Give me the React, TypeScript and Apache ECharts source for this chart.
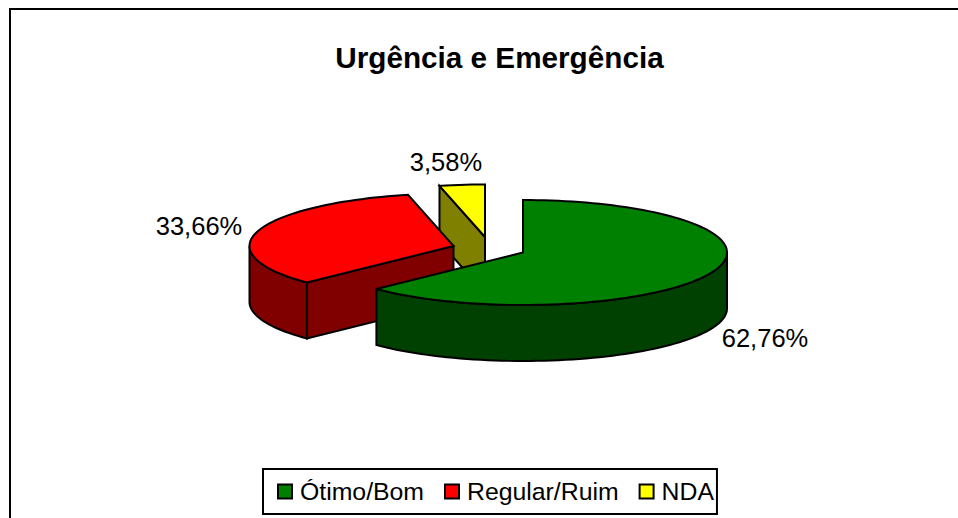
import React, { useEffect, useRef } from "react";
import * as echarts from "echarts";

const titleText = "Urgência e Emergência";
const categories = ["Ótimo/Bom", "Regular/Ruim", "NDA"];
const values = [62.76, 33.66, 3.58];
const topColors = ["#008000", "#FF0000", "#FFFF00"];
const wallColors = ["#004000", "#800000", "#808000"];

// layout of the tilted pie
const RX = 204;
const RY = 52.5;
const DEPTH = 56;
const centers = [
  [523, 252.5],
  [453.5, 246],
  [485, 237],
];
const labelAnchors = [
  [765, 338],
  [199, 226],
  [446, 162],
];
const FONT = "'Liberation Sans', Arial, sans-serif";

const total = values.reduce((a, b) => a + b, 0);

function rim(c: number[], deg: number, dy = 0): number[] {
  const a = (deg * Math.PI) / 180;
  return [c[0] + RX * Math.sin(a), c[1] - RY * Math.cos(a) + dy];
}

function arcPoints(c: number[], from: number, to: number, dy = 0): number[][] {
  const n = Math.max(2, Math.ceil(Math.abs(to - from) / 2));
  const pts: number[][] = [];
  for (let i = 0; i <= n; i++) pts.push(rim(c, from + ((to - from) * i) / n, dy));
  return pts;
}

function face(points: number[][], fill: string) {
  return {
    type: "polygon",
    shape: { points },
    style: { fill, stroke: "#000", lineWidth: 2, lineJoin: "miter" },
  };
}

function makeRenderItem(idx: number) {
  return () => {
    const start = (values.slice(0, idx).reduce((a, b) => a + b, 0) / total) * 360;
    const end = start + (values[idx] / total) * 360;
    const c = centers[idx];
    const children: any[] = [];

    // visible wall of the outer rim (front half: 90..270 degrees)
    const wFrom = Math.max(start, 90);
    const wTo = Math.min(end, 270);
    if (wTo > wFrom) {
      children.push(
        face(
          [...arcPoints(c, wFrom, wTo), ...arcPoints(c, wTo, wFrom, DEPTH)],
          wallColors[idx]
        )
      );
    }
    // visible cut face for the slices whose start edge faces the viewer
    if (idx > 0) {
      const p = rim(c, start);
      children.push(
        face(
          [c, p, [p[0], p[1] + DEPTH], [c[0], c[1] + DEPTH]],
          wallColors[idx]
        )
      );
    }
    // top
    children.push(face([c, ...arcPoints(c, start, end)], topColors[idx]));
    // percentage label
    children.push({
      type: "text",
      style: {
        x: labelAnchors[idx][0],
        y: labelAnchors[idx][1],
        text: values[idx].toFixed(2).replace(".", ",") + "%",
        fill: "#000",
        font: `25.5px ${FONT}`,
        align: "center",
        verticalAlign: "middle",
      },
    });
    return { type: "group", children };
  };
}

export default function App() {
  const ref = useRef<HTMLDivElement>(null);
  useEffect(() => {
    document.body.style.margin = "0";
    document.body.style.background = "#fff";
    const chart = echarts.init(ref.current!, undefined, { renderer: "svg" });
    chart.setOption({
      animation: false,
      backgroundColor: "#fff",
      title: {
        text: titleText,
        left: 494.5,
        top: 37,
        textAlign: "center",
        textStyle: { fontFamily: FONT, fontSize: 29.7, fontWeight: "bold", color: "#000" },
      },
      legend: {
        data: categories,
        left: 263,
        top: 469,
        itemWidth: 14,
        itemHeight: 14,
        itemGap: 20,
        padding: [10, 3, 10, 14],
        icon: "rect",
        borderColor: "#000",
        borderWidth: 2,
        backgroundColor: "#fff",
        selectedMode: false,
        itemStyle: { borderColor: "#000", borderWidth: 2 },
        textStyle: { fontFamily: FONT, fontSize: 24.8, color: "#000", padding: [0, 0, 0, 3] },
      },
      graphic: [
        {
          type: "polyline",
          shape: { points: [[10, 518], [10, 9], [958, 9]] },
          style: { fill: "none", stroke: "#000", lineWidth: 2 },
        },
      ],
      series: categories.map((name, i) => ({
        type: "custom",
        name,
        coordinateSystem: "none",
        z: 3 - i,
        itemStyle: { color: topColors[i] },
        data: [[values[i]]],
        renderItem: makeRenderItem(i),
      })),
    });
    return () => chart.dispose();
  }, []);
  return <div ref={ref} style={{ width: 958, height: 518 }} />;
}
